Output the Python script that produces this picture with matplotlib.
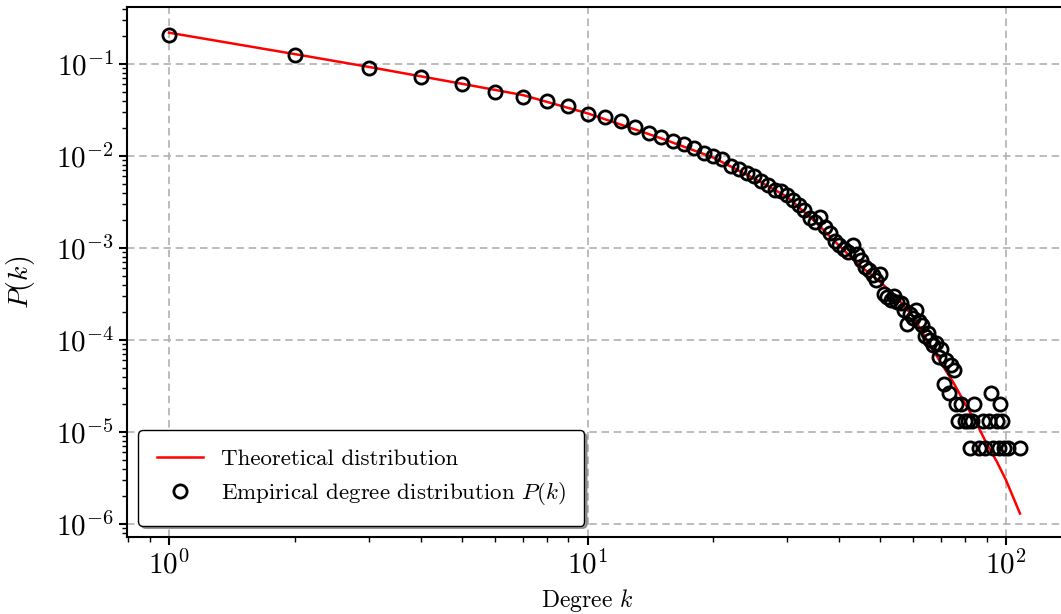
import numpy as np
import matplotlib
matplotlib.use("Agg")
import matplotlib.pyplot as plt
from matplotlib.ticker import LogLocator, NullFormatter

plt.rcParams.update({
    "font.family": "serif",
    "font.serif": ["cmr10"],
    "mathtext.fontset": "cm",
    "axes.formatter.use_mathtext": True,
    "font.size": 16,
})

# empirical degree distribution
k_emp = [1, 2, 3, 4, 5, 6, 7, 8, 9, 10, 11, 12, 13, 14, 15, 16, 17, 18, 19, 20,
         21, 22, 23, 24, 25, 26, 27, 28, 29, 30, 31, 32, 33, 34, 35, 36, 37, 38, 39, 40,
         41, 42, 43, 44, 45, 46, 47, 48, 49, 50, 51, 52, 53, 54, 55, 56, 57, 58, 59, 60,
         61, 62, 63, 64, 65, 66, 67, 68, 69, 70, 71, 72, 73, 74, 75, 76, 77, 78, 80, 81,
         82, 83, 84, 86, 88, 89, 91, 92, 93, 95, 96, 97, 98, 99, 101, 108]
p_emp = [0.206, 0.125, 0.0912, 0.0728, 0.0607, 0.0497, 0.0441, 0.0396, 0.0349, 0.0286,
         0.0267, 0.0242, 0.0208, 0.0177, 0.0160, 0.0147, 0.0135, 0.0121, 0.0107, 0.0100,
         0.0092, 0.0077, 0.0072, 0.0066, 0.0060, 0.0054, 0.0049, 0.0043, 0.0042, 0.0038,
         0.0033, 0.0029, 0.0026, 0.0021, 0.00193, 0.00219, 0.0017, 0.00145, 0.0012, 0.00107,
         9.8e-4, 9.0e-4, 1.07e-3, 8.5e-4, 7.4e-4, 6.2e-4, 5.8e-4, 5.1e-4, 4.5e-4, 5.2e-4,
         3.2e-4, 2.9e-4, 2.7e-4, 3.0e-4, 2.6e-4, 2.5e-4, 2.1e-4, 1.5e-4, 1.9e-4, 1.75e-4,
         2.1e-4, 1.6e-4, 1.45e-4, 1.1e-4, 1.2e-4, 1.0e-4, 8.8e-5, 9.2e-5, 6.6e-5, 8.0e-5,
         3.33e-5, 6.0e-5, 2.67e-5, 5.3e-5, 4.7e-5, 2.0e-5, 1.33e-5, 2.0e-5, 1.33e-5, 1.33e-5,
         6.67e-6, 1.33e-5, 2.0e-5, 6.67e-6, 1.33e-5, 6.67e-6, 1.33e-5, 2.67e-5, 6.67e-6, 1.33e-5,
         6.67e-6, 2.0e-5, 1.33e-5, 6.67e-6, 6.67e-6, 6.67e-6]

# theoretical curve
k_th = [1, 2, 3, 5, 7, 10, 15, 20, 25, 30, 35, 40, 45, 50, 55, 60, 65, 70, 75, 80,
        85, 90, 95, 100, 108]
p_th = [0.219, 0.128, 0.093, 0.0611, 0.046, 0.0291, 0.01556, 0.0096, 0.0057, 0.0036,
        0.00193, 0.00105, 6.3e-4, 4.3e-4, 2.84e-4, 1.8e-4, 9.6e-5, 5.6e-5, 3.4e-5, 2.0e-5,
        1.25e-5, 7.4e-6, 4.8e-6, 3.0e-6, 1.3e-6]

fig = plt.figure(figsize=(10.61, 6.14), dpi=100)
ax = fig.add_axes([127/1061, 77/614, 934/1061, 530/614])

ax.plot(k_th, p_th, color="red", lw=1.8, label="Theoretical distribution", zorder=3)
ax.plot(k_emp, p_emp, "o", ls="none", mfc="none", mec="black", ms=9.5, mew=2,
        label=r"Empirical degree distribution $P(k)$", zorder=4)

ax.set_xscale("log"); ax.set_yscale("log")
ax.set_xlim(10**(-42/418.5), 10**((1061-169)/418.5))
ax.set_ylim(10**(-6-13/92), 10**(-1+57/92))

ax.xaxis.set_major_locator(LogLocator(base=10, numticks=20))
ax.xaxis.set_minor_locator(LogLocator(base=10, subs=np.arange(2, 10), numticks=100))
ax.yaxis.set_major_locator(LogLocator(base=10, numticks=20))
ax.yaxis.set_minor_locator(LogLocator(base=10, subs=np.arange(2, 10), numticks=100))
ax.xaxis.set_minor_formatter(NullFormatter()); ax.yaxis.set_minor_formatter(NullFormatter())

for s in ax.spines.values():
    s.set_linewidth(1.5)
ax.spines["right"].set_visible(False)
ax.tick_params(which="major", direction="out", length=6, width=1.5, labelsize=21)
ax.tick_params(which="minor", direction="out", length=3.5, width=1.0)

ax.grid(True, which="major", color="#b0b0b0", ls=(0, (4.5, 2.8)), lw=1.2)
ax.set_axisbelow(True)

ax.set_xlabel(r"Degree $k$", fontsize=17)
ax.xaxis.set_label_coords((587 - 127) / 934, -0.095)
ax.set_ylabel(r"$P(k)$", fontsize=20)
ax.yaxis.set_label_coords((37 - 127) / 934, 0.48)

leg = ax.legend(loc="lower left", fontsize=16.5, shadow=True, fancybox=True,
                framealpha=1, edgecolor="black", borderpad=0.8)
leg.get_frame().set_linewidth(1.0)

fig.savefig("out.png", dpi=100)
